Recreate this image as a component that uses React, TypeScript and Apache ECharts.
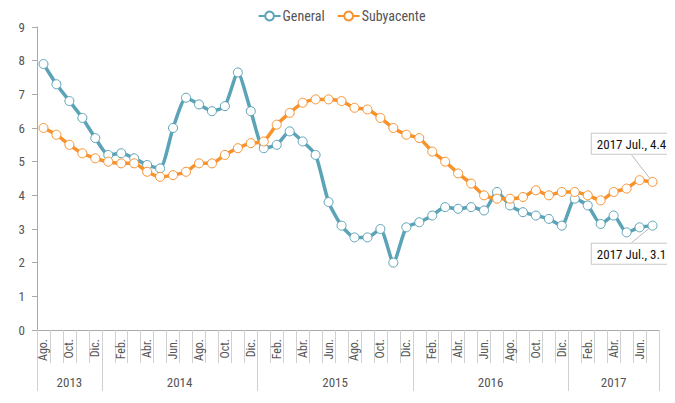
import React, { useEffect, useRef } from "react";
import * as echarts from "echarts";

const monthNames = ["Ago.", "Sep.", "Oct.", "Nov.", "Dic.", "Ene.", "Feb.", "Mar.", "Abr.", "May.", "Jun.", "Jul."];
const years = ["2013", "2014", "2015", "2016", "2017"];
const monthsPerYear = [5, 12, 12, 12, 7];

const general = [7.9, 7.3, 6.8, 6.3, 5.7, 5.2, 5.25, 5.1, 4.9, 4.8, 6.0, 6.9, 6.7, 6.5, 6.65, 7.65, 6.5, 5.4, 5.5, 5.9, 5.6, 5.2, 3.8, 3.1, 2.75, 2.75, 3.0, 2.0, 3.05, 3.2, 3.4, 3.65, 3.6, 3.65, 3.55, 4.1, 3.7, 3.5, 3.4, 3.3, 3.1, 3.9, 3.7, 3.15, 3.4, 2.9, 3.05, 3.1];
const subyacente = [6.0, 5.8, 5.5, 5.25, 5.1, 5.0, 4.95, 4.95, 4.7, 4.55, 4.6, 4.7, 4.95, 4.95, 5.2, 5.4, 5.55, 5.6, 6.1, 6.45, 6.75, 6.85, 6.85, 6.8, 6.6, 6.55, 6.3, 6.0, 5.8, 5.7, 5.3, 5.0, 4.65, 4.35, 4.0, 3.9, 3.9, 3.95, 4.15, 4.0, 4.1, 4.1, 4.0, 3.85, 4.1, 4.2, 4.45, 4.4];

const categories: string[] = [];
for (let i = 0; i < general.length; i++) categories.push(monthNames[i % 12]);

const boundaries: number[] = [0];
const centers: number[] = [];
monthsPerYear.forEach((n) => {
  const start = boundaries[boundaries.length - 1];
  centers.push(start + n / 2);
  boundaries.push(start + n);
});

const FONT = '"Liberation Sans Narrow", "Roboto Condensed", Roboto, sans-serif';
const BLUE = "#5ba3b7";
const ORANGE = "#f7922d";

function makeData(values: number[], below: boolean) {
  const last = values.length - 1;
  return values.map((v, i) =>
    i === last
      ? {
          value: v,
          label: {
            show: true,
            position: below ? "bottom" : "top",
            formatter: () => `${years[years.length - 1]} ${categories[last]}, ${v}`,
            backgroundColor: "#fff",
            borderColor: "#c8c8c8",
            borderWidth: 1,
            padding: [4, 5, 3, 5],
            color: "#111",
            fontFamily: FONT,
            fontSize: 13,
          },
        }
      : v
  );
}

export default function App() {
  const ref = useRef<HTMLDivElement>(null);
  useEffect(() => {
    if (!ref.current) return;
    const chart = echarts.init(ref.current, null, { renderer: "svg" });
    const seriesCommon = {
      type: "line",
      smooth: 0.2,
      symbol: "circle",
      symbolSize: 9,
      showSymbol: true,
      showAllSymbol: true,
      labelLine: { show: true, lineStyle: { color: "#bbb", width: 1 } },
    };
    chart.setOption({
      animation: false,
      textStyle: { fontFamily: FONT },
      legend: {
        top: -4,
        left: "center",
        itemWidth: 22,
        itemHeight: 11,
        itemGap: 12,
        textStyle: { color: "#555", fontSize: 14, fontFamily: FONT, padding: [0, 0, 0, -3] },
        data: ["General", "Subyacente"],
      },
      grid: { left: 29, right: 16, top: 19, bottom: 73 },
      xAxis: [
        {
          type: "category",
          data: categories,
          boundaryGap: true,
          axisLine: { show: true, lineStyle: { color: "#aaa", width: 1 } },
          axisTick: { show: true, interval: 0, length: 33, lineStyle: { color: "#d0d0d0" } },
          axisLabel: {
            interval: 1,
            rotate: 90,
            margin: 9,
            color: "#555",
            fontSize: 12,
            fontFamily: FONT,
          },
        },
        {
          type: "value",
          min: 0,
          max: general.length,
          position: "bottom",
          axisLine: { show: false },
          splitLine: { show: false },
          axisTick: { show: true, customValues: boundaries, length: 61, lineStyle: { color: "#d0d0d0" } },
          axisLabel: {
            customValues: centers,
            margin: 46,
            color: "#555",
            fontSize: 13,
            fontFamily: FONT,
            formatter: (v: number) => {
              const k = centers.findIndex((c) => Math.abs(c - v) < 1e-6);
              return k >= 0 ? years[k] : "";
            },
          },
        },
      ],
      yAxis: {
        type: "value",
        min: 0,
        max: 9,
        interval: 1,
        axisLine: { show: true, lineStyle: { color: "#aaa" } },
        axisTick: { show: true, length: 5, lineStyle: { color: "#aaa" } },
        splitLine: { show: false },
        axisLabel: { color: "#555", fontSize: 13, margin: 12, fontFamily: FONT },
      },
      series: [
        {
          ...seriesCommon,
          name: "General",
          xAxisIndex: 0,
          color: BLUE,
          itemStyle: { color: "#fff", borderColor: BLUE, borderWidth: 1 },
          lineStyle: { width: 3.5, color: BLUE },
          data: makeData(general, true),
          labelLayout: { dx: -21, dy: 8 },
          z: 2,
        },
        {
          ...seriesCommon,
          name: "Subyacente",
          xAxisIndex: 0,
          color: ORANGE,
          itemStyle: { color: "#fff", borderColor: ORANGE, borderWidth: 1 },
          lineStyle: { width: 3.5, color: ORANGE },
          data: makeData(subyacente, false),
          labelLayout: { dx: -21, dy: -18 },
          z: 3,
        },
      ],
    });
    return () => chart.dispose();
  }, []);
  return <div ref={ref} style={{ width: 667, height: 395 }} />;
}
